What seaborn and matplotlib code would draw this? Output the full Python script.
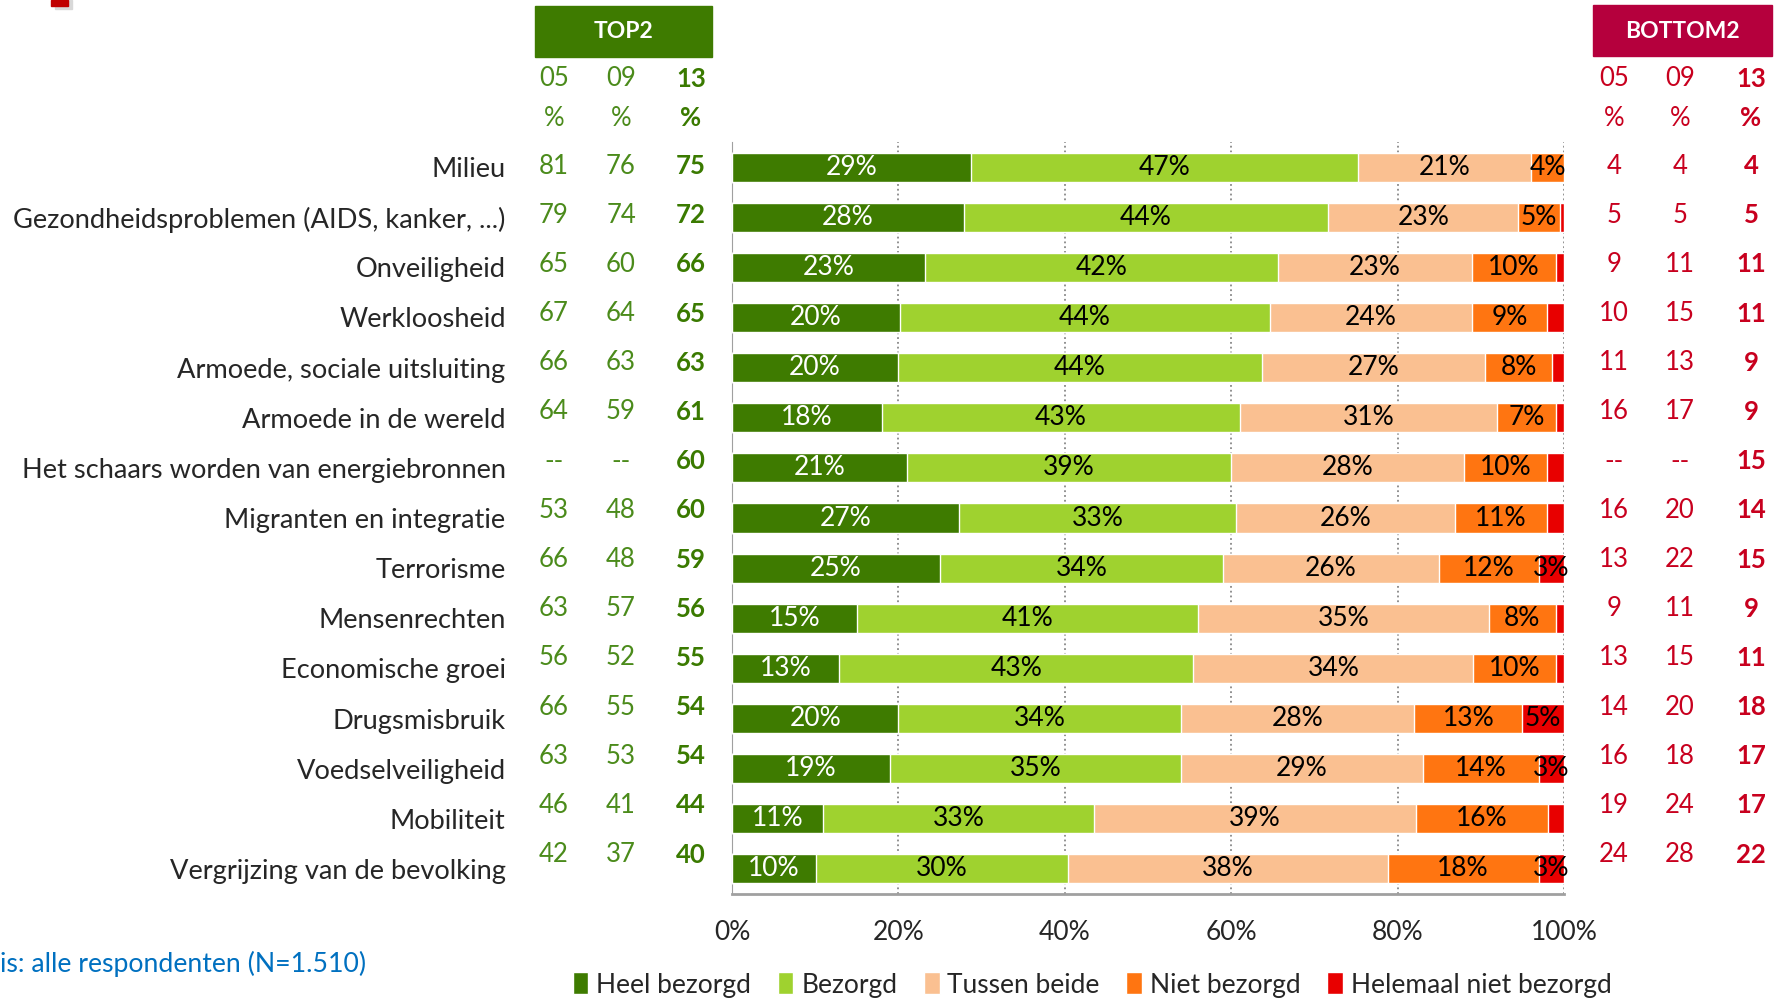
import pandas as pd
import matplotlib
matplotlib.use("Agg")
import matplotlib.pyplot as plt
import matplotlib.transforms as mtransforms
from matplotlib.patches import Rectangle, Patch
import seaborn as sns

# -----------------------
# DATA
# -----------------------
categories = [
    "Milieu",
    "Gezondheidsproblemen (AIDS, kanker, ...)",
    "Onveiligheid",
    "Werkloosheid",
    "Armoede, sociale uitsluiting",
    "Armoede in de wereld",
    "Het schaars worden van energiebronnen",
    "Migranten en integratie",
    "Terrorisme",
    "Mensenrechten",
    "Economische groei",
    "Drugsmisbruik",
    "Voedselveiligheid",
    "Mobiliteit",
    "Vergrijzing van de bevolking",
]
heel = [29, 28, 23, 20, 20, 18, 21, 27, 25, 15, 13, 20, 19, 11, 10]
bezorgd = [47, 44, 42, 44, 44, 43, 39, 33, 34, 41, 43, 34, 35, 33, 30]
tussen = [21, 23, 23, 24, 27, 31, 28, 26, 26, 35, 34, 28, 29, 39, 38]
niet = [4, 5, 10, 9, 8, 7, 10, 11, 12, 8, 10, 13, 14, 16, 18]
helemaal = [0, 0.5, 1, 2, 1.5, 1, 2, 2, 3, 1, 1, 5, 3, 2, 3]

top2_05 = ["81", "79", "65", "67", "66", "64", "--", "53", "66", "63", "56", "66", "63", "46", "42"]
top2_09 = ["76", "74", "60", "64", "63", "59", "--", "48", "48", "57", "52", "55", "53", "41", "37"]
top2_13 = ["75", "72", "66", "65", "63", "61", "60", "60", "59", "56", "55", "54", "54", "44", "40"]
bot2_05 = ["4", "5", "9", "10", "11", "16", "--", "16", "13", "9", "13", "14", "16", "19", "24"]
bot2_09 = ["4", "5", "11", "15", "13", "17", "--", "20", "22", "11", "15", "20", "18", "24", "28"]
bot2_13 = ["4", "5", "11", "11", "9", "9", "15", "14", "15", "9", "11", "18", "17", "17", "22"]

legend_labels = ["Heel bezorgd", "Bezorgd", "Tussen beide", "Niet bezorgd", "Helemaal niet bezorgd"]
colors = ["#3E7B00", "#9FD22F", "#FAC091", "#FF7511", "#E80000"]

# -----------------------
# PREP (100% stacked)
# -----------------------
df = pd.DataFrame({"cat": categories, "h1": heel, "h2": bezorgd, "h3": tussen,
                   "h4": niet, "h5": helemaal})
segs = ["h1", "h2", "h3", "h4", "h5"]
total = df[segs].sum(axis=1)
for s in segs:
    df[s + "_pct"] = df[s] / total * 100
cum = df[[s + "_pct" for s in segs]].cumsum(axis=1)
for k, s in enumerate(segs):
    df[s + "_cum"] = cum.iloc[:, k]

# -----------------------
# PLOT
# -----------------------
sns.set_style("white")
plt.rcParams["font.family"] = ["Lato", "DejaVu Sans"]

W, H = 1777, 1000
fig = plt.figure(figsize=(W / 100, H / 100), dpi=100)
ax = fig.add_axes([732 / W, 1 - 894 / H, (1564 - 732) / W, (894 - 142) / H])

for k in range(len(segs) - 1, -1, -1):
    sns.barplot(data=df, x=segs[k] + "_cum", y="cat", order=categories, color=colors[k],
                orient="h", width=0.58, saturation=1, errorbar=None, ax=ax, zorder=3)

# segment labels
for i in range(len(categories)):
    left = 0
    for k, s in enumerate(segs):
        w = df.loc[i, s + "_pct"]
        v = df.loc[i, s]
        if v >= 3:
            ax.text(left + w / 2, i, f"{v:g}%", ha="center", va="center", fontsize=19,
                    color="white" if k == 0 else "black", zorder=5)
        left += w

ax.set_xlim(0, 100)
ax.set_ylim(14.5, -0.5)
ax.set_xticks([0, 20, 40, 60, 80, 100])
ax.set_xticklabels([f"{t}%" for t in [0, 20, 40, 60, 80, 100]], fontsize=19)
ax.set_xlabel("")
ax.set_ylabel("")
ax.tick_params(axis="y", length=0, pad=163, labelsize=19.6)
ax.tick_params(axis="x", length=0, pad=19)
ax.grid(axis="x", ls=":", color="#888888", lw=1.3, zorder=0)
ax.grid(axis="y", visible=False)
for side in ["top", "right"]:
    ax.spines[side].set_visible(False)
ax.spines["left"].set_color("#A0A0A0")
ax.spines["bottom"].set_color("#A0A0A0")
ax.spines["bottom"].set_linewidth(2)

# -----------------------
# TOP2 / BOTTOM2 COLUMNS
# -----------------------
trans = mtransforms.blended_transform_factory(fig.transFigure, ax.transData)
green, green_b = "#4B8B1B", "#3A7A00"
red = "#C8001E"

fig.patches.append(Rectangle((535 / W, 1 - 57 / H), (712 - 535) / W, 51 / H,
                             transform=fig.transFigure, color="#3E7B00"))
fig.text(623 / W, 1 - 32 / H, "TOP2", color="white", fontsize=16.5, fontweight="bold",
         ha="center", va="center")
fig.patches.append(Rectangle((1593 / W, 1 - 56 / H), (1772 - 1593) / W, 51 / H,
                             transform=fig.transFigure, color="#B5003D"))
fig.text(1682 / W, 1 - 31 / H, "BOTTOM2", color="white", fontsize=16.5, fontweight="bold",
         ha="center", va="center")

# top-left red marker
fig.patches.append(Rectangle((55 / W, 1 - 9 / H), 17 / W, 9 / H,
                             transform=fig.transFigure, color="#D8D8D8"))
fig.patches.append(Rectangle((51 / W, 1 - 6 / H), 17 / W, 6 / H,
                             transform=fig.transFigure, color="#C00000"))

cols = [
    (554, top2_05, green, "normal", "05"),
    (621, top2_09, green, "normal", "09"),
    (691, top2_13, green_b, "bold", "13"),
    (1614, bot2_05, red, "normal", "05"),
    (1680, bot2_09, red, "normal", "09"),
    (1751, bot2_13, red, "bold", "13"),
]
for x, vals, c, wgt, head in cols:
    fig.text(x / W, 1 - 79 / H, head, color=c, fontsize=18.5, fontweight=wgt,
             ha="center", va="center")
    fig.text(x / W, 1 - 118 / H, "%", color=c, fontsize=18.5, fontweight=wgt,
             ha="center", va="center")
    for i, v in enumerate(vals):
        ax.text(x / W, i - 0.02 - 0.019 * i, v, transform=trans, color=c, fontsize=18.5,
                fontweight=wgt, ha="center", va="center")

# -----------------------
# FOOTNOTE + LEGEND
# -----------------------
fig.text(0, 1 - 964 / H, "is: alle respondenten (N=1.510)", color="#0070C0",
         fontsize=19.2, ha="left", va="center")

handles = [Patch(facecolor=c, label=l) for c, l in zip(colors, legend_labels)]
fig.legend(handles=handles, loc="center", bbox_to_anchor=(1092 / W, 1 - 985 / H), ncol=5,
           frameon=False, fontsize=19, handlelength=0.6, handleheight=0.9,
           handletextpad=0.3, columnspacing=1.0, borderaxespad=0)

fig.savefig("out.png", dpi=100)
